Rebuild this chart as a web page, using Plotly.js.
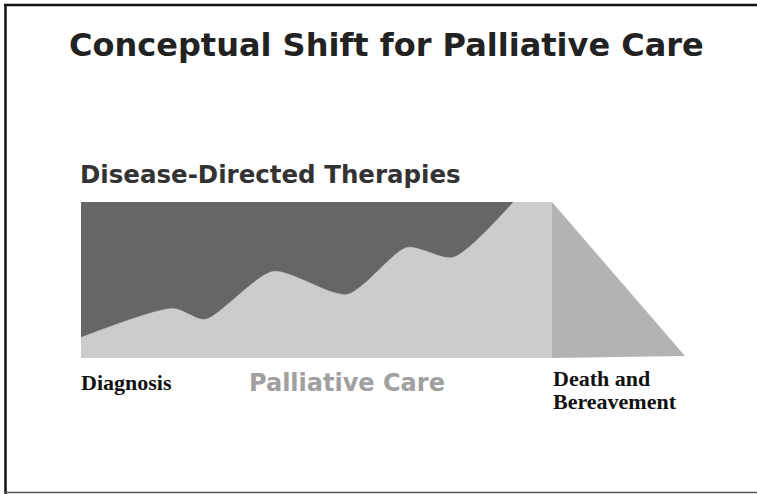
<!DOCTYPE html>
<html>
<head>
<meta charset="utf-8">
<script src="https://cdn.plot.ly/plotly-3.0.1.min.js"></script>
<style>html,body{margin:0;padding:0;background:#fff;}#chart{width:757px;height:494px;}</style>
</head>
<body>
<div id="chart"></div>
<script>
// Boundary between disease-directed therapies (above) and palliative care (below)
const curveX = [81, 173, 205, 273, 347, 407, 453, 513];
const curveY = [337, 308, 319, 271, 294, 247, 257, 202];
const topLevel = 202;
const careX = [81, 552, 552, 81];
const careY = [202, 202, 358, 358];
const bereaveX = [552, 685, 552];
const bereaveY = [202, 356, 358];

const titleText = "Conceptual Shift for Palliative Care";
const labels = {
  therapies: "Disease-Directed Therapies",
  diagnosis: "Diagnosis",
  care: "Palliative Care",
  death1: "Death and",
  death2: "Bereavement"
};

const topLine = curveX.map(() => topLevel);

const traces = [
  {x: careX, y: careY, mode: 'lines', fill: 'toself', fillcolor: '#cccccc', line: {width: 0, color: '#cccccc'}},
  {x: bereaveX, y: bereaveY, mode: 'lines', fill: 'toself', fillcolor: '#b3b3b3', line: {width: 0, color: '#b3b3b3'}},
  {x: curveX, y: topLine, mode: 'lines', line: {width: 0, color: '#666666'}},
  {x: curveX, y: curveY, mode: 'lines', fill: 'tonexty', fillcolor: '#666666', line: {width: 0.5, color: '#666666', shape: 'spline', smoothing: 0.7}}
];

const sans = 'DejaVu Sans, Arial, sans-serif';
const serif = 'Liberation Serif, Times New Roman, serif';

const layout = {
  width: 757, height: 494,
  margin: {l: 0, r: 0, t: 0, b: 0, pad: 0},
  paper_bgcolor: '#ffffff', plot_bgcolor: '#ffffff',
  showlegend: false,
  hovermode: false,
  xaxis: {range: [0, 757], visible: false, fixedrange: true},
  yaxis: {range: [494, 0], visible: false, fixedrange: true},
  annotations: [
    {text: titleText, x: 386, y: 45, xref: 'x', yref: 'y', xanchor: 'center', yanchor: 'middle', showarrow: false,
     font: {family: sans, size: 32, weight: 'bold', color: '#222222'}},
    {text: labels.therapies, x: 78, y: 174.5, xref: 'x', yref: 'y', xanchor: 'left', yanchor: 'middle', showarrow: false,
     font: {family: sans, size: 24.5, weight: 'bold', color: '#333333'}},
    {text: labels.diagnosis, x: 79, y: 382.5, xref: 'x', yref: 'y', xanchor: 'left', yanchor: 'middle', showarrow: false,
     font: {family: serif, size: 22, weight: 'bold', color: '#111111'}},
    {text: labels.care, x: 347, y: 383, xref: 'x', yref: 'y', xanchor: 'center', yanchor: 'middle', showarrow: false,
     font: {family: sans, size: 24, weight: 'bold', color: '#a0a0a0'}},
    {text: labels.death1, x: 551, y: 378, xref: 'x', yref: 'y', xanchor: 'left', yanchor: 'middle', showarrow: false,
     font: {family: serif, size: 22, weight: 'bold', color: '#111111'}},
    {text: labels.death2, x: 551, y: 401, xref: 'x', yref: 'y', xanchor: 'left', yanchor: 'middle', showarrow: false,
     font: {family: serif, size: 22, weight: 'bold', color: '#111111'}}
  ],
  shapes: [
    {type: 'line', xref: 'x', yref: 'y', x0: 4, x1: 757, y0: 5, y1: 5, line: {color: '#111111', width: 2.5}},
    {type: 'line', xref: 'x', yref: 'y', x0: 5.5, x1: 5.5, y0: 4, y1: 494, line: {color: '#111111', width: 2.5}},
    {type: 'line', xref: 'x', yref: 'y', x0: 4, x1: 757, y0: 492.5, y1: 492.5, line: {color: '#555555', width: 1.5}}
  ]
};

Plotly.newPlot('chart', traces, layout, {staticPlot: true, displayModeBar: false});
</script>
</body>
</html>
